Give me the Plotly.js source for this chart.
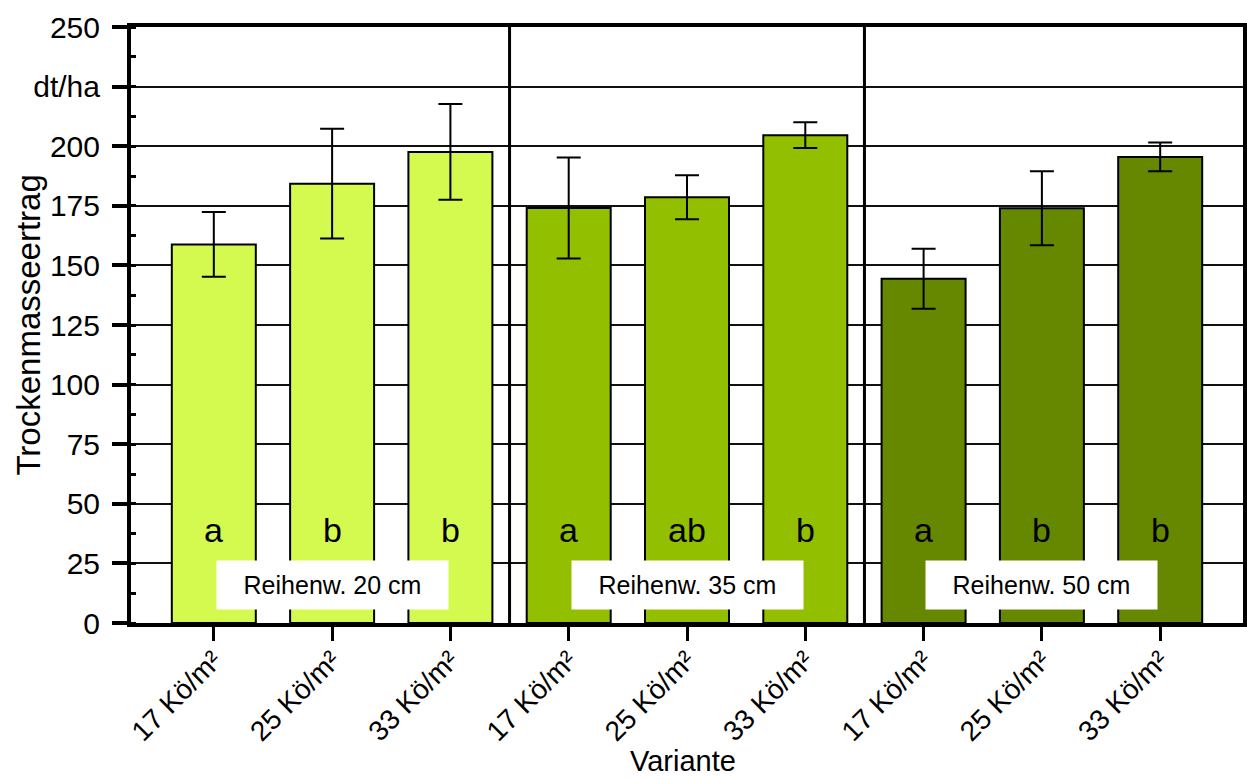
<!DOCTYPE html>
<html>
<head>
<meta charset="utf-8">
<script src="https://cdn.plot.ly/plotly-3.0.1.min.js"></script>
<style>html,body{margin:0;padding:0;background:#fff;}#chart{width:1247px;height:780px;}</style>
</head>
<body>
<div id="chart"></div>
<script>
// ---- data ----
const categories = ['17 Kö/m²','25 Kö/m²','33 Kö/m²','17 Kö/m²','25 Kö/m²','33 Kö/m²','17 Kö/m²','25 Kö/m²','33 Kö/m²'];
const values = [158.8, 184.3, 197.6, 174.1, 178.6, 204.6, 144.4, 174.0, 195.5];
const errors = [13.6, 23.0, 20.1, 21.2, 9.2, 5.4, 12.6, 15.5, 6.0];
const letters = ['a','b','b','a','ab','b','a','b','b'];
const groupLabels = ['Reihenw. 20 cm','Reihenw. 35 cm','Reihenw. 50 cm'];
const groupColors = ['#d4fa50','#92bf00','#668800'];
const yTickVals = [0,25,50,75,100,125,150,175,200,225,250];
const yTickText = ['0','25','50','75','100','125','150','175','200','dt/ha','250'];
const yTitle = 'Trockenmasseertrag';
const xTitle = 'Variante';

const FONT = '"Liberation Sans", Arial, sans-serif';
const xs = categories.map((c,i)=>i);
const barColors = categories.map((c,i)=>groupColors[Math.floor(i/3)]);

const trace = {
  type:'bar', x: xs, y: values, width: 0.71,
  marker:{color: barColors, line:{color:'#000', width:2}},
  error_y:{type:'data', array: errors, visible:true, color:'#000', thickness:2, width:12},
  hoverinfo:'skip', showlegend:false
};

const annotations = [];
letters.forEach((t,i)=>annotations.push({
  x: xs[i], y: 39, xref:'x', yref:'y', text: t, showarrow:false,
  font:{family:FONT, size:34, color:'#000'}, yanchor:'middle'
}));
groupLabels.forEach((t,g)=>annotations.push({
  x: g*3+1, y: 16.1, xref:'x', yref:'y', text: t, showarrow:false,
  font:{family:FONT, size:25, color:'#000'}, bgcolor:'#fff', width:231, height:48, borderpad:0
}));
// axis titles placed as annotations for exact positioning
annotations.push({
  x: -0.093, y: 0.5, xref:'paper', yref:'paper', text: yTitle, textangle:-90, showarrow:false,
  xanchor:'center', yanchor:'middle', font:{family:FONT, size:33, color:'#000'}
});
annotations.push({
  x: 0.4965, y: -0.203, xref:'paper', yref:'paper', text: xTitle, showarrow:false,
  xanchor:'center', yanchor:'top', borderpad:0, font:{family:FONT, size:29, color:'#000'}
});

const shapes = [2.5, 5.5].map(v=>({type:'line', xref:'x', yref:'paper', x0:v, x1:v, y0:0, y1:1, line:{color:'#000', width:3}}));

const layout = {
  width:1247, height:780,
  margin:{l:131, r:4, t:27, b:157},
  paper_bgcolor:'#fff', plot_bgcolor:'#fff',
  font:{family:FONT, color:'#000'},
  bargap:0,
  xaxis:{
    range:[-0.7, 8.7], tickvals: xs, ticktext: categories, tickangle:-45,
    ticks:'outside', ticklen:14, tickwidth:3, tickcolor:'#000',
    tickfont:{family:FONT, size:28, color:'#000'}, ticklabelstandoff:-8,
    showline:true, linewidth:4, linecolor:'#000', mirror:true,
    showgrid:false, zeroline:false
  },
  yaxis:{
    range:[0,250], tickvals:yTickVals, ticktext:yTickText,
    ticks:'outside', ticklen:15, tickwidth:4, tickcolor:'#000',
    tickfont:{family:FONT, size:30, color:'#000'}, ticklabelstandoff:6,
    showline:true, linewidth:4, linecolor:'#000', mirror:true,
    showgrid:true, gridcolor:'#111', gridwidth:2, zeroline:false,
    minor:{dtick:12.5, ticks:'inside', ticklen:5, tickwidth:3, tickcolor:'#000', showgrid:false}
  },
  annotations: annotations,
  shapes: shapes
};

Plotly.newPlot('chart', [trace], layout, {staticPlot:true, displayModeBar:false});
</script>
</body>
</html>
